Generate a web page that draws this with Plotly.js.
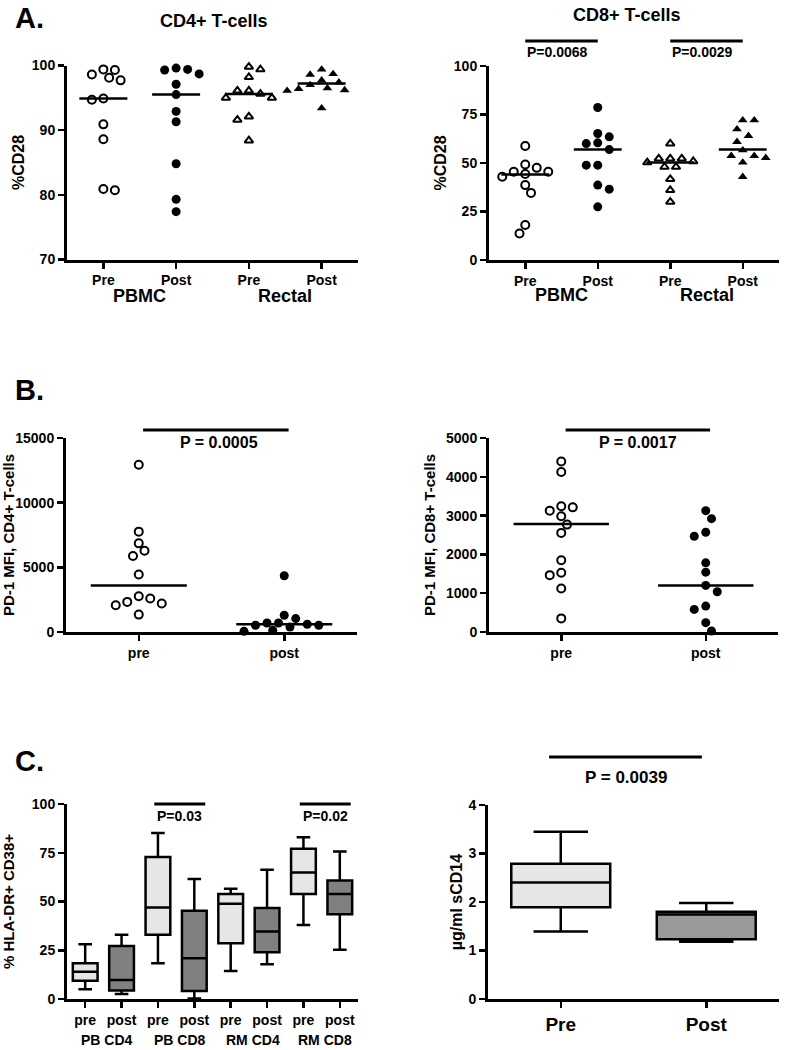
<!DOCTYPE html>
<html>
<head>
<meta charset="utf-8">
<script src="https://cdn.plot.ly/plotly-3.0.1.min.js"></script>
<style>html,body{margin:0;padding:0;background:#fff;}#chart{width:789px;height:1050px;}</style>
</head>
<body>
<div id="chart"></div>
<script>
// ---------------- DATA ----------------
// Panel A: %CD28 (CD4+ and CD8+ T-cells)
const aTickText = ['Pre', 'Post', 'Pre', 'Post'];
const aGroups = ['PBMC', 'Rectal'];
const cd4PbmcPre    = [99.4, 99.3, 98.6, 98.1, 97.7, 94.9, 94.7, 90.9, 88.6, 80.9, 80.7];
const cd4PbmcPost   = [99.6, 99.4, 99.3, 98.7, 97.1, 95.5, 92.9, 91.3, 84.8, 79.3, 77.4];
const cd4RectalPre  = [99.8, 99.4, 98.2, 96.1, 96.1, 95.6, 95.0, 95.0, 92.1, 91.6, 88.4];
const cd4RectalPost = [99.4, 98.7, 98.6, 97.7, 97.4, 97.0, 96.5, 96.4, 96.2, 96.1, 93.4];
const cd4Medians    = [94.9, 95.5, 95.6, 97.2];
const cd8PbmcPre    = [58.8, 49.2, 47.5, 45.5, 45.5, 44.3, 42.9, 38.6, 34.6, 18.0, 13.7];
const cd8PbmcPost   = [78.6, 65.2, 63.5, 60.4, 60.0, 56.9, 48.9, 48.9, 38.6, 36.5, 27.4];
const cd8RectalPre  = [60.0, 52.3, 52.3, 52.3, 50.9, 50.3, 48.0, 48.0, 41.7, 36.0, 30.0];
const cd8RectalPost = [72.1, 72.1, 67.4, 64.0, 60.9, 56.6, 53.7, 53.7, 52.7, 50.3, 42.9];
const cd8Medians    = [44.1, 56.9, 50.3, 57.0];
const cd8PValues    = ['P=0.0068', 'P=0.0029'];

// Panel B: PD-1 MFI
const bTickText = ['pre', 'post'];
const pd1Cd4Pre  = [12930, 7758, 6853, 6284, 5870, 4448, 2767, 2586, 2327, 2198, 2069, 1345];
const pd1Cd4Post = [4352, 1295, 1036, 700, 700, 596, 518, 518, 389, 130, 52];
const pd1Cd4Medians = [3600, 590];
const pd1Cd8Pre  = [4396, 4122, 3239, 3213, 3128, 2982, 2768, 2554, 1851, 1525, 1465, 1123, 351];
const pd1Cd8Post = [3128, 2922, 2571, 2468, 1782, 1542, 1200, 1037, 668, 583, 240, 26];
const pd1Cd8Medians = [2785, 1200];
const pd1PValues = ['P = 0.0005', 'P = 0.0017'];

// Panel C left: % HLA-DR+ CD38+ (box plots)
const hlaGroups = ['PB CD4', 'PB CD8', 'RM CD4', 'RM CD8'];
const hlaTickText = ['pre', 'post', 'pre', 'post', 'pre', 'post', 'pre', 'post'];
const hlaPreLower  = [5.0, 18.3, 14.4, 38.0];
const hlaPreQ1     = [9.4, 32.9, 28.6, 53.9];
const hlaPreMedian = [14.0, 46.9, 48.8, 64.9];
const hlaPreQ3     = [18.3, 72.8, 53.9, 77.1];
const hlaPreUpper  = [28.1, 85.1, 56.5, 83.0];
const hlaPostLower  = [2.6, 0.3, 17.8, 25.2];
const hlaPostQ1     = [4.3, 4.1, 24.0, 43.5];
const hlaPostMedian = [9.8, 20.9, 34.6, 53.9];
const hlaPostQ3     = [27.2, 45.2, 46.7, 60.8];
const hlaPostUpper  = [32.9, 61.5, 66.3, 75.7];
const hlaPValues = ['P=0.03', 'P=0.02'];

// Panel C right: sCD14 (box plots)
const scdTickText = ['Pre', 'Post'];
const scdLower  = [1.39, 1.18];
const scdQ1     = [1.89, 1.23];
const scdMedian = [2.40, 1.74];
const scdQ3     = [2.79, 1.80];
const scdUpper  = [3.45, 1.98];
const scdPValue = 'P = 0.0039';

// ---------------- LAYOUT HELPERS ----------------
const W = 789, H = 1050;
const F = 'Liberation Sans, Arial, Helvetica, sans-serif';
const font = (size) => ({family: F, size: size, color: '#000', weight: 'bold'});
const xp = (px) => px / W;
const yp = (py) => 1 - py / H;

const panels = {
  1: {x: [67, 358],  y: [65.5, 259.5], xr: [-0.5, 3.5], yr: [70, 100]},
  2: {x: [489, 779], y: [66, 260],     xr: [-0.5, 3.5], yr: [0, 100]},
  3: {x: [66, 357],  y: [438, 632],    xr: [-0.5, 1.5], yr: [0, 15000]},
  4: {x: [489, 778], y: [438, 632],    xr: [-0.5, 1.5], yr: [0, 5000]},
  5: {x: [67, 358],  y: [804, 999],    xr: [-0.5, 7.5], yr: [0, 100]},
  6: {x: [488, 779], y: [805, 999],    xr: [-0.5, 1.5], yr: [0, 4]}
};

function swarm(vals, center, pan, d) {
  const pxX = (pan.x[1] - pan.x[0]) / (pan.xr[1] - pan.xr[0]);
  const pxY = (pan.y[1] - pan.y[0]) / (pan.yr[1] - pan.yr[0]);
  const order = vals.map((v, i) => i).sort((a, b) => vals[b] - vals[a]);
  const placed = [];
  const xs = new Array(vals.length);
  const thr = 0.8 * d, step = d / 2;
  let flip = 1;
  for (const i of order) {
    const y = vals[i] * pxY;
    let chosen = 0;
    for (let k = 0; k < 60; k++) {
      const cands = k === 0 ? [0] : [flip * k, -flip * k];
      let ok = null;
      for (const c of cands) {
        const x = c * step;
        if (placed.every(p => Math.hypot(p.x - x, p.y - y) >= thr)) { ok = x; break; }
      }
      if (ok !== null) { chosen = ok; break; }
    }
    if (chosen !== 0) flip = -Math.sign(chosen);
    placed.push({x: chosen, y: y});
    xs[i] = center + chosen / pxX;
  }
  return xs;
}

const MK = {
  openCircle:   {symbol: 'circle-open', size: 8, color: '#000', line: {width: 2, color: '#000'}},
  filledCircle: {symbol: 'circle', size: 9, color: '#000', line: {width: 0}},
  openTri:      {symbol: 'triangle-up-open', size: 7.5, color: '#000', line: {width: 2, color: '#000'}},
  filledTri:    {symbol: 'triangle-up', size: 8.5, color: '#000', line: {width: 0}}
};

function dots(vals, cat, n, marker) {
  return {type: 'scatter', mode: 'markers', x: swarm(vals, cat, panels[n], 11.5), y: vals,
          xaxis: 'x' + n, yaxis: 'y' + n, cliponaxis: false, marker: marker, hoverinfo: 'skip'};
}
function medianLines(meds, n) {
  const x = [], y = [];
  meds.forEach((m, i) => { x.push(i - 0.33, i + 0.33, null); y.push(m, m, null); });
  return {type: 'scatter', mode: 'lines', x: x, y: y, xaxis: 'x' + n, yaxis: 'y' + n,
          line: {color: '#000', width: 2.5}, hoverinfo: 'skip', cliponaxis: false};
}
function boxes(pos, lo, q1, med, q3, up, n, fill) {
  return {type: 'box', orientation: 'v', x: pos, q1: q1, median: med, q3: q3, lowerfence: lo, upperfence: up,
          xaxis: 'x' + n, yaxis: 'y' + n, width: 0.68, whiskerwidth: 0.55, fillcolor: fill,
          line: {color: '#000', width: 2.5}, boxpoints: false, hoverinfo: 'skip'};
}

const traces = [
  dots(cd4PbmcPre, 0, 1, MK.openCircle), dots(cd4PbmcPost, 1, 1, MK.filledCircle),
  dots(cd4RectalPre, 2, 1, MK.openTri), dots(cd4RectalPost, 3, 1, MK.filledTri),
  medianLines(cd4Medians, 1),
  dots(cd8PbmcPre, 0, 2, MK.openCircle), dots(cd8PbmcPost, 1, 2, MK.filledCircle),
  dots(cd8RectalPre, 2, 2, MK.openTri), dots(cd8RectalPost, 3, 2, MK.filledTri),
  medianLines(cd8Medians, 2),
  dots(pd1Cd4Pre, 0, 3, MK.openCircle), dots(pd1Cd4Post, 1, 3, MK.filledCircle),
  medianLines(pd1Cd4Medians, 3),
  dots(pd1Cd8Pre, 0, 4, MK.openCircle), dots(pd1Cd8Post, 1, 4, MK.filledCircle),
  medianLines(pd1Cd8Medians, 4),
  boxes(hlaGroups.map((g, i) => 2 * i), hlaPreLower, hlaPreQ1, hlaPreMedian, hlaPreQ3, hlaPreUpper, 5, '#e6e6e6'),
  boxes(hlaGroups.map((g, i) => 2 * i + 1), hlaPostLower, hlaPostQ1, hlaPostMedian, hlaPostQ3, hlaPostUpper, 5, '#808080'),
  boxes([0], [scdLower[0]], [scdQ1[0]], [scdMedian[0]], [scdQ3[0]], [scdUpper[0]], 6, '#e6e6e6'),
  boxes([1], [scdLower[1]], [scdQ1[1]], [scdMedian[1]], [scdQ3[1]], [scdUpper[1]], 6, '#999999')
];

const yTitles = {1: ['%CD28', 4, 16], 2: ['%CD28', 4, 16], 3: ['PD-1 MFI, CD4+ T-cells', 2, 15],
                 4: ['PD-1 MFI, CD8+ T-cells', 7, 15], 5: ['% HLA-DR+ CD38+', 18, 15], 6: ['\u00b5g/ml sCD14', 2, 16]};
const yTicks = {1: [70, 80, 90, 100], 2: [0, 25, 50, 75, 100], 3: [0, 5000, 10000, 15000],
                4: [0, 1000, 2000, 3000, 4000, 5000], 5: [0, 25, 50, 75, 100], 6: [0, 1, 2, 3, 4]};
const xTicks = {1: aTickText, 2: aTickText, 3: bTickText, 4: bTickText, 5: hlaTickText, 6: scdTickText};

const layout = {
  width: W, height: H, margin: {l: 0, r: 0, t: 0, b: 0},
  paper_bgcolor: '#fff', plot_bgcolor: '#fff', showlegend: false, boxmode: 'overlay',
  font: font(14), shapes: [], annotations: []
};
const common = {showline: true, linecolor: '#000', linewidth: 3, ticks: 'outside', ticklen: 6, tickwidth: 2.5,
                tickcolor: '#000', showgrid: false, zeroline: false, fixedrange: true, tickfont: font(14)};
for (const n in panels) {
  const p = panels[n];
  const sfx = n === '1' ? '' : n;
  layout['xaxis' + sfx] = Object.assign({}, common, {
    domain: [xp(p.x[0]), xp(p.x[1])], range: p.xr, anchor: 'y' + sfx,
    tickmode: 'array', tickvals: xTicks[n].map((t, i) => i), ticktext: xTicks[n],
    tickfont: font(n === '6' ? 19 : 14)
  });
  layout['yaxis' + sfx] = Object.assign({}, common, {
    domain: [yp(p.y[1]), yp(p.y[0])], range: p.yr, anchor: 'x' + sfx,
    tickmode: 'array', tickvals: yTicks[n], ticktext: yTicks[n].map(String),
    title: {text: yTitles[n][0], font: font(yTitles[n][2]), standoff: yTitles[n][1]}
  });
}

function ann(text, x, y, size, xref, extra) {
  layout.annotations.push(Object.assign({text: text, x: x, y: y, xref: xref || 'paper', yref: 'paper',
    showarrow: false, font: font(size), xanchor: 'center', yanchor: 'middle'}, extra || {}));
}
function pline(xref, x0, x1, py) {
  layout.shapes.push({type: 'line', xref: xref, yref: 'paper', x0: x0, x1: x1, y0: yp(py), y1: yp(py),
                      line: {color: '#000', width: 3}});
}

// panel letters and titles
ann('A.', xp(13), yp(18), 29, 'paper', {xanchor: 'left'});
ann('B.', xp(13), yp(390), 29, 'paper', {xanchor: 'left'});
ann('C.', xp(13), yp(761), 29, 'paper', {xanchor: 'left'});
ann('CD4+ T-cells', xp(214), yp(21), 18);
ann('CD8+ T-cells', xp(627), yp(15), 18);
// group labels
aGroups.forEach((g, i) => { ann(g, 2 * i + 0.5, yp(296), 18, 'x'); ann(g, 2 * i + 0.5, yp(295), 18, 'x2'); });
hlaGroups.forEach((g, i) => ann(g, 2 * i + 0.6, yp(1040), 14, 'x5'));
// significance bars
cd8PValues.forEach((t, i) => { pline('x2', 2 * i, 2 * i + 1, 41); ann(t, 2 * i + 0.45, yp(52), 14, 'x2'); });
pline('x3', 0.03, 1.03, 430); ann(pd1PValues[0], 0.55, yp(442), 16, 'x3');
pline('x4', 0.03, 1.03, 430); ann(pd1PValues[1], 0.53, yp(442), 16, 'x4');
hlaPValues.forEach((t, i) => { pline('x5', 4 * i + 1.9, 4 * i + 3.3, 804); ann(t, 4 * i + 2.6, yp(816), 14, 'x5'); });
pline('x6', -0.08, 0.97, 757); ann(scdPValue, 0.45, yp(777), 17, 'x6');

Plotly.newPlot('chart', traces, layout, {staticPlot: true, displayModeBar: false});
</script>
</body>
</html>
